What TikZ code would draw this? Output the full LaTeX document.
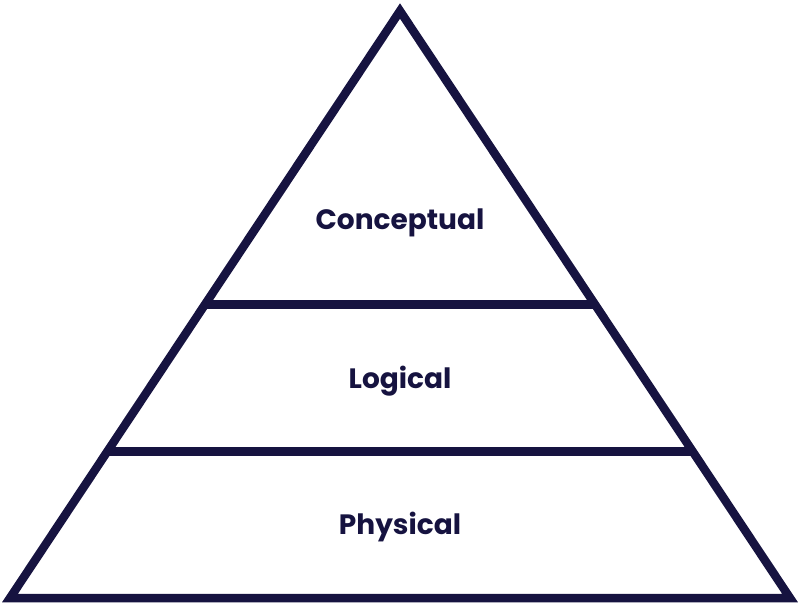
\documentclass[tikz,border=0pt]{standalone}
\usepackage{fontspec}
\setmainfont{Poppins}[BoldFont={* Bold}]
\usetikzlibrary{calc}
\definecolor{navy}{RGB}{22,19,64}
\tikzset{
  edge/.style={draw=navy, line width=8.5pt, line join=miter, miter limit=10},
  level/.style={text=navy, font=\fontsize{28}{33}\selectfont\bfseries, inner sep=0pt}
}
\begin{document}
\begin{tikzpicture}[x=1pt,y=-1pt]
\useasboundingbox (0,0) rectangle (800,612);
\coordinate (apex) at (400,11);
\coordinate (bl) at (10,598);
\coordinate (br) at (790,598);
\coordinate (l1) at ($(apex)!0.5!(bl)$);
\coordinate (r1) at ($(apex)!0.5!(br)$);
\coordinate (l2) at ($(apex)!0.75!(bl)$);
\coordinate (r2) at ($(apex)!0.75!(br)$);
\draw[edge] (apex) -- (bl) -- (br) -- cycle;
\draw[edge] (l1) -- (r1);
\draw[edge] (l2) -- (r2);
\node[level] (conceptual) at (400,223) {Conceptual};
\node[level] (logical) at (400,381) {Logical};
\node[level] (physical) at (400,527) {Physical};
\end{tikzpicture}
\end{document}
